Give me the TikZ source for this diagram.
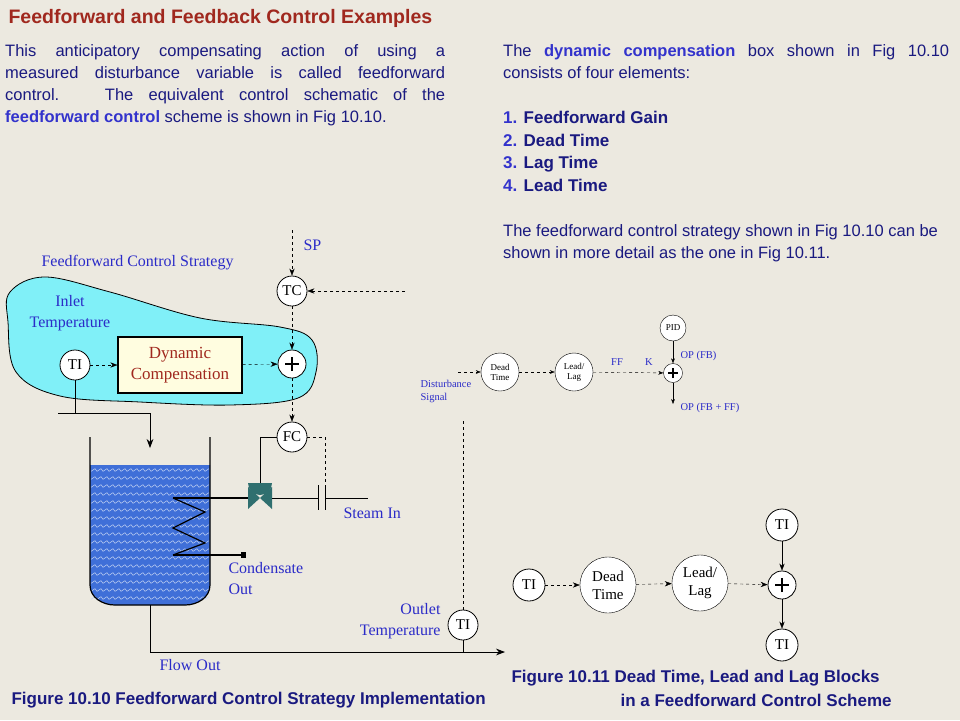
\documentclass[tikz,border=0pt]{standalone}
\usepackage{fontspec}
\setmainfont{Liberation Serif}
\setsansfont{Liberation Sans}
\usetikzlibrary{arrows.meta, positioning}
\definecolor{bg}{HTML}{ECE9E0}
\definecolor{navy}{HTML}{1A1A80}
\definecolor{hl}{HTML}{3333CC}
\definecolor{lbl}{HTML}{2B2BC8}
\definecolor{ttl}{HTML}{A0281E}
\definecolor{blob}{HTML}{80F0F8}
\definecolor{water}{HTML}{3F6FD8}
\definecolor{valve}{HTML}{2F6F6F}
\tikzstyle{inst} = [circle, draw, fill=white, thick, minimum size=30pt, inner sep=0pt, font=\fontsize{15}{15}\selectfont]
\tikzstyle{sumc} = [circle, draw, fill=white, thick, minimum size=28pt, inner sep=0pt]
\tikzstyle{blk} = [circle, draw, fill=white, minimum size=38pt, inner sep=0pt, align=center, font=\fontsize{9}{10}\selectfont]
\tikzstyle{bigblk} = [circle, draw, fill=white, minimum size=56pt, inner sep=0pt, align=center, font=\fontsize{15}{18}\selectfont]
\tikzstyle{sig} = [draw, dashed, -{Stealth[length=7pt]}]
\tikzstyle{line} = [draw, -{Stealth[length=7pt]}]
\tikzstyle{para} = [anchor=north west, font=\sffamily\fontsize{16.5}{22}\selectfont, text=navy, inner sep=0pt, align=left]
\tikzstyle{lab} = [text=lbl, font=\fontsize{16}{21}\selectfont, align=center]
\tikzstyle{small} = [text=lbl, font=\fontsize{10.5}{13}\selectfont, align=left]
\tikzstyle{figcap} = [anchor=west, text=navy, font=\sffamily\bfseries\fontsize{17}{20}\selectfont]
\newcommand{\plus}{\tikz[baseline=-3pt]{\draw[line width=2pt] (-7pt,0)--(7pt,0) (0,-7pt)--(0,7pt);}}
\newcommand{\splus}{\tikz[baseline=-2pt]{\draw[line width=1.2pt] (-5pt,0)--(5pt,0) (0,-5pt)--(0,5pt);}}
\newcommand{\jline}[1]{\makebox[440pt][s]{#1}}
\begin{document}
\begin{tikzpicture}[x=1pt, y=-1pt]
    \fill[bg] (0,0) rectangle (960,720);
    \useasboundingbox (0,0) rectangle (960,720);

    % texts
    \node[anchor=west, text=ttl, font=\sffamily\bfseries\fontsize{19.5}{22}\selectfont] (title) at (5,18) {Feedforward and Feedback Control Examples};
    \node[para] (intro) at (5,44) {\jline{This anticipatory compensating action of using a}\\\jline{measured disturbance variable is called feedforward}\\\jline{control.\ \ \ The equivalent control schematic of the}\\{\color{hl}\bfseries feedforward control} scheme is shown in Fig 10.10.};
    \node[para] (dyn) at (503,44) {\makebox[446pt][s]{The {\color{hl}\bfseries dynamic compensation} box shown in Fig 10.10}\\consists of four elements:};
    \node[para, font=\sffamily\bfseries\fontsize{17}{22.5}\selectfont] (list) at (503,111) {{\color{hl}1.} Feedforward Gain\\{\color{hl}2.} Dead Time\\{\color{hl}3.} Lag Time\\{\color{hl}4.} Lead Time};
    \node[para] (more) at (503,224) {The feedforward control strategy shown in Fig 10.10 can be\\shown in more detail as the one in Fig 10.11.};

    % feedforward region
    \fill[blob] plot[smooth cycle, tension=0.6] coordinates {(10,292) (45,277) (110,292) (200,318) (280,327) (312,340) (316,372) (298,398) (230,405) (140,402) (60,396) (16,372) (8,322)};
    \draw[thick] plot[smooth cycle, tension=0.6] coordinates {(10,292) (45,277) (110,292) (200,318) (280,327) (312,340) (316,372) (298,398) (230,405) (140,402) (60,396) (16,372) (8,322)};
    \node[lab, anchor=west] (ffcs) at (38,263) {Feedforward Control Strategy};
    \node[lab] (inlet) at (70,313) {Inlet\\Temperature};

    \node[inst] (ti) at (75,365) {TI};
    \node[draw, very thick, fill=yellow!12, minimum width=124pt, minimum height=56pt, text=ttl, align=center, font=\fontsize{17}{21}\selectfont] (dc) at (180,365) {Dynamic\\Compensation};
    \node[sumc] (sum) at (292,364) {\plus};
    \node[inst] (tc) at (292,291) {TC};
    \node[inst] (fc) at (292,437) {FC};
    \coordinate (sptop) at (292,230);
    \coordinate (tcin) at (405,291);
    \node[lab, anchor=west] (sp) at (300,245) {SP};

    \path[sig] (sptop) -- (tc);
    \path[sig] (tcin) -- (tc);
    \path[sig] (tc) -- (sum);
    \path[sig] (sum) -- (fc);
    \path[sig] (ti) -- (dc);
    \path[sig] (dc) -- (sum);

    % inlet pipe and tank
    \draw[thick] (58,413) -- (150,413);
    \draw[thick] (ti) -- (75,413);
    \draw[thick, -{Stealth[length=9pt]}] (150,413) -- (150,448);
    \fill[water] (90,465) -- (90,585) to[out=-90, in=180] (115,605) -- (185,605) to[out=0, in=-90] (210,585) -- (210,465) -- cycle;
    \foreach \yy in {470,478,...,600} {
        \draw[white!70!water, line width=0.5pt] plot[domain=91:209, samples=60] (\x, {\yy+1.5*sin(\x*60)});
    }
    \draw[very thick] (90,437) -- (90,585) to[out=-90, in=180] (115,605) -- (185,605) to[out=0, in=-90] (210,585) -- (210,437);

    % steam coil and valve
    \draw[very thick] (173,498) -- (248,498);
    \draw[very thick] (173,498) -- (205,512) -- (173,528) -- (205,543) -- (173,555);
    \draw[very thick, -{Rectangle[length=5pt, width=6pt]}] (173,555) -- (246,555);
    \fill[valve] (248,487) -- (272,509) -- (272,487) -- (248,509) -- cycle;
    \fill[valve] (248,483) arc (180:0:12) -- cycle;
    \draw[thick] (272,498) -- (318,498);
    \draw[thick] (318,485) -- (318,510) (325,485) -- (325,510);
    \draw[thick] (325,498) -- (368,498);
    \draw[thick] (260,483) -- (260,437) -- (fc);
    \draw[thick, dashed] (fc) -- (325,437) -- (325,490);
    \node[lab, anchor=west] (steam) at (340,513) {Steam In};
    \node[lab, anchor=north west, align=left] (cond) at (225,559) {Condensate\\Out};

    % outlet
    \node[inst] (tio) at (463,625) {TI};
    \coordinate (tiotop) at (463,418);
    \draw[thick, -{Stealth[length=9pt]}] (150,605) -- (150,652) -- (505,652);
    \draw[thick] (tio) -- (463,652);
    \draw[thick, dashed] (tio) -- (tiotop);
    \node[lab, anchor=east, align=right] (outlet) at (444,621) {Outlet\\Temperature};
    \node[lab] (flow) at (190,665) {Flow Out};

    % detailed signal path
    \node[blk] (dt) at (500,372) {Dead\\Time};
    \node[blk] (ll) at (574,372) {Lead/\\Lag};
    \node[circle, draw, fill=white, minimum size=19pt, inner sep=0pt] (ssum) at (673,373) {\splus};
    \node[circle, draw, fill=white, minimum size=26pt, inner sep=0pt, font=\fontsize{9}{9}\selectfont] (pid) at (673,328) {PID};
    \coordinate (dsin) at (458,372);
    \coordinate (ssout) at (673,404);
    \path[sig, -{Stealth[length=5pt]}] (dsin) -- (dt);
    \path[sig, -{Stealth[length=5pt]}] (dt) -- (ll);
    \path[sig, -{Stealth[length=5pt]}] (ll) -- (ssum);
    \path[line, -{Stealth[length=5pt]}] (pid) -- (ssum);
    \path[line, -{Stealth[length=5pt]}] (ssum) -- (ssout);
    \node[small, anchor=north west] (dist) at (417,377) {Disturbance\\Signal};
    \node[small] (ff) at (617,362) {FF};
    \node[small] (kk) at (649,362) {K};
    \node[small, anchor=west] (opfb) at (677,356) {OP (FB)};
    \node[small, anchor=west] (opff) at (677,408) {OP (FB + FF)};

    % figure 10.11
    \node[inst, minimum size=32pt] (tia) at (529,585) {TI};
    \node[bigblk] (dtb) at (608,585) {Dead\\Time};
    \node[bigblk] (llb) at (700,583) {Lead/\\Lag};
    \node[sumc] (sumb) at (782,585) {\plus};
    \node[inst, minimum size=32pt] (tit) at (782,525) {TI};
    \node[inst, minimum size=32pt] (tib) at (782,645) {TI};
    \path[sig] (tia) -- (dtb);
    \path[sig] (dtb) -- (llb);
    \path[sig] (llb) -- (sumb);
    \path[line] (tit) -- (sumb);
    \path[line] (sumb) -- (tib);

    % captions
    \node[figcap] (cap1) at (8,700) {Figure 10.10 Feedforward Control Strategy Implementation};
    \node[figcap] (cap2) at (508,678) {Figure 10.11 Dead Time, Lead and Lag Blocks};
    \node[figcap] (cap3) at (617,700) {in a Feedforward Control Scheme};
\end{tikzpicture}
\end{document}
